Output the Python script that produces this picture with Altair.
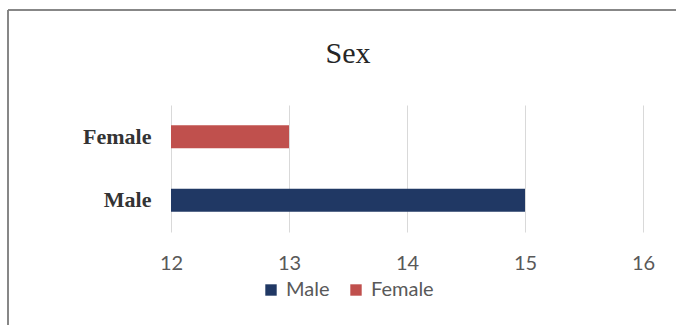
import altair as alt
import pandas as pd

title_text = ["Sex"]
categories = ["Male", "Female"]
values = [15, 13]
colors = ["#203864", "#C0504D"]

df = pd.DataFrame({"sex": categories, "value": values})
title_df = pd.DataFrame({"t": title_text})

bars = alt.Chart(df).mark_bar(size=23).encode(
    y=alt.Y("sex:N", sort=["Female", "Male"], title=None,
            axis=alt.Axis(labelFont="Liberation Serif", labelFontSize=22,
                          labelFontWeight="bold",
                          labelColor="#333333", labelPadding=20, ticks=False,
                          domain=False)),
    x=alt.X("value:Q", title=None,
            scale=alt.Scale(domain=[12, 16], zero=False, nice=False),
            axis=alt.Axis(values=[12, 13, 14, 15, 16], grid=True,
                          gridColor="#d9d9d9", labelFont="Lato",
                          labelFontSize=20, labelColor="#595959",
                          labelPadding=21, ticks=False, domain=False,
                          labelFlush=False)),
    x2=alt.datum(12),
    color=alt.Color("sex:N",
                    scale=alt.Scale(domain=categories, range=colors),
                    legend=alt.Legend(title=None, orient="none", legendX=90,
                                      legendY=175, direction="horizontal",
                                      symbolType="square", symbolSize=130,
                                      labelFont="Lato", labelFontSize=20,
                                      labelColor="#595959", columnPadding=16,
                                      labelOffset=5,
                                      symbolStrokeWidth=0)),
)

title = alt.Chart(title_df).mark_text(
    font="Liberation Serif", fontSize=30, color="#262626",
    align="center", baseline="alphabetic").encode(
    text="t:N", x=alt.value(177), y=alt.value(-42))

top_line = alt.Chart(df).mark_rule(color="#7f7f7f", strokeWidth=1.5).encode(
    x=alt.value(-163), x2=alt.value(510), y=alt.value(-95))
left_line = alt.Chart(df).mark_rule(color="#7f7f7f", strokeWidth=1.5).encode(
    x=alt.value(-163), y=alt.value(-95), y2=alt.value(230))

chart = alt.layer(bars, title, top_line, left_line).properties(
    width=472, height=127,
    padding={"left": 171, "top": 105, "right": 33, "bottom": 93},
    autosize=alt.AutoSizeParams(type="none"),
).configure_view(stroke=None)

chart.save("out.html", embed_options={"renderer": "svg", "actions": False})
